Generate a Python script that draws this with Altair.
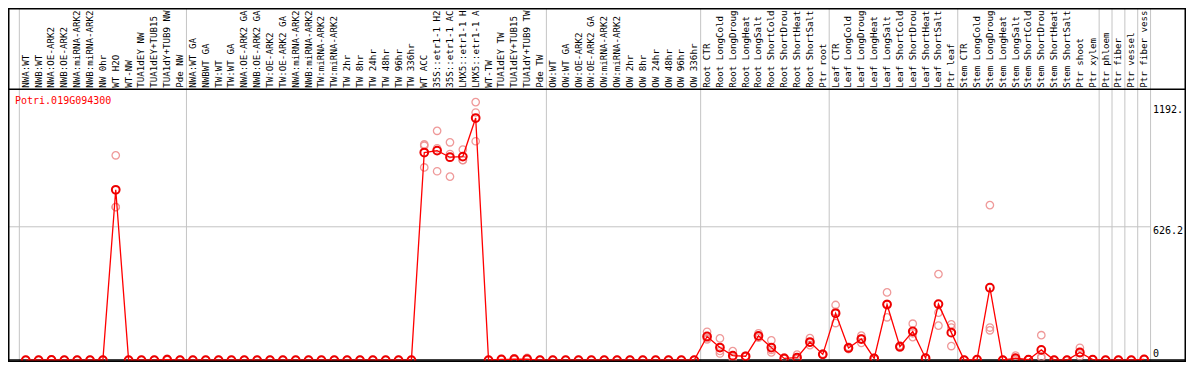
import altair as alt
import pandas as pd

labels = [
    "NWA:WT", "NWB:WT", "NWA:OE-ARK2", "NWB:OE-ARK2", "NWA:miRNA-ARK2", "NWB:miRNA-ARK2",
    "NW 0hr", "WT H2O", "WT-NW", "TUA1dEY NW", "TUA1dEY+TUB15", "TUA1dY+TUB9 NW", "Pde NW",
    "NWA:WT GA", "NWBWT GA", "TW:WT", "TW:WT GA", "NWA:OE-ARK2 GA", "NWB:OE-ARK2 GA",
    "TW:OE-ARK2", "TW:OE-ARK2 GA", "NWA:miRNA-ARK2", "NWB:miRNA-ARK2", "TW:miRNA-ARK2",
    "TW:miRNA-ARK2", "TW 2hr", "TW 8hr", "TW 24hr", "TW 48hr", "TW 96hr", "TW 336hr",
    "WT ACC", "35S::etr1-1 H2", "35S::etr1-1 AC", "LMX5::etr1-1 H", "LMX5::etr1-1 A",
    "WT-TW", "TUA1dEY TW", "TUA1dEY+TUB15", "TUA1dY+TUB9 TW", "Pde TW",
    "OW:WT", "OW:WT GA", "OW:OE-ARK2", "OW:OE-ARK2 GA", "OW:miRNA-ARK2", "OW:miRNA-ARK2",
    "OW 2hr", "OW 8hr", "OW 24hr", "OW 48hr", "OW 96hr", "OW 336hr",
    "Root CTR", "Root LongCold", "Root LongDroug", "Root LongHeat", "Root LongSalt",
    "Root ShortCold", "Root ShortDrou", "Root ShortHeat", "Root ShortSalt", "Ptr root",
    "Leaf CTR", "Leaf LongCold", "Leaf LongDroug", "Leaf LongHeat", "Leaf LongSalt",
    "Leaf ShortCold", "Leaf ShortDrou", "Leaf ShortHeat", "Leaf ShortSalt", "Ptr leaf",
    "Stem CTR", "Stem LongCold", "Stem LongDroug", "Stem LongHeat", "Stem LongSalt",
    "Stem ShortCold", "Stem ShortDrou", "Stem ShortHeat", "Stem ShortSalt", "Ptr shoot",
    "Ptr xylem", "Ptr phloem", "Ptr fiber", "Ptr vessel", "Ptr fiber vess",
]

# number of samples in each group (separated by vertical grid lines)
group_sizes = [13, 28, 12, 10, 10, 11, 1, 1, 1, 1]

means = [
    0, 0, 1, 0, 0, 0, 0, 800, 0, 0, 0, 2, 0,
    0, 0, 0, 0, 0, 0, 0, 0, 0, 0, 0, 0, 0, 0, 0, 0, 0, 0,
    975, 984, 953, 956, 1137, 0, 3, 4, 5, 0,
    0, 0, 0, 0, 0, 0, 0, 0, 0, 0, 0, 0,
    111, 59, 21, 18, 114, 59, 8, 12, 85, 27,
    220, 57, 99, 8, 261, 63, 135, 9, 263, 129,
    0, 2, 340, 0, 9, 2, 48, 0, 0, 36,
    2, 0, 0, 0, 3,
]

rep1 = [
    0, 0, 2, 0, 0, 0, 0, 962, 0, 0, 0, 6, 0,
    0, 0, 0, 0, 0, 0, 0, 0, 0, 0, 0, 0, 0, 0, 0, 0, 0, 0,
    1013, 1077, 1023, 989, 1212, 0, 5, 8, 10, 0,
    0, 0, 0, 0, 0, 0, 0, 0, 0, 0, 0, 0,
    133, 102, 42, 20, 126, 93, 12, 26, 103, 30,
    259, 62, 115, 10, 318, 68, 171, 9, 404, 168,
    0, 3, 728, 0, 21, 3, 117, 0, 0, 58,
    3, 0, 0, 0, 5,
]
rep2 = [
    0, 0, 0, 0, 0, 0, 0, 719, 0, 0, 0, 0, 0,
    0, 0, 0, 0, 0, 0, 0, 0, 0, 0, 0, 0, 0, 0, 0, 0, 0, 0,
    1007, 995, 968, 939, 1163, 0, 2, 3, 3, 0,
    0, 0, 0, 0, 0, 0, 0, 0, 0, 0, 0, 0,
    103, 43, 6, 15, 111, 48, 6, 5, 70, 25,
    174, 52, 81, 6, 201, 58, 108, 9, 223, 153,
    0, 1, 153, 0, 3, 1, 16, 0, 0, 18,
    1, 0, 0, 0, 2,
]
rep3 = [
    0, 0, 1, 0, 0, 0, 0, 719, 0, 0, 0, 0, 0,
    0, 0, 0, 0, 0, 0, 0, 0, 0, 0, 0, 0, 0, 0, 0, 0, 0, 0,
    905, 887, 862, 940, 1028, 0, 1, 1, 2, 0,
    0, 0, 0, 0, 0, 0, 0, 0, 0, 0, 0, 0,
    97, 31, 16, 19, 105, 36, 6, 5, 82, 26,
    227, 57, 101, 8, 264, 63, 126, 9, 162, 66,
    0, 2, 140, 0, 3, 2, 11, 0, 0, 32,
    2, 0, 0, 0, 2,
]

tick_values = [626.2, 1192]
tick_labels = ["626.2", "1192."]
zero_label = "0"
gene = "Potri.019G094300"

W, H = 1178, 354
FONT = "DejaVu Sans Mono"

idx = list(range(len(labels)))
mean_df = pd.DataFrame({"i": idx, "label": labels, "v": means})
rep_df = pd.DataFrame({
    "i": idx * 3,
    "v": rep1 + rep2 + rep3,
})

bounds = [-0.5]
acc = 0
for g in group_sizes:
    acc += g
    bounds.append(acc - 0.5)
bound_df = pd.DataFrame({"b": bounds})

xs = alt.Scale(domain=[-1.3816, 90.256], nice=False, zero=False)
ys = alt.Scale(domain=[-8.93, 1653.9], nice=False, zero=False)

base_x = alt.X("i:Q", scale=xs, axis=None)

vgrid = alt.Chart(bound_df).mark_rule(color="#c4c4c4", strokeWidth=1).encode(
    x=alt.X("b:Q", scale=xs, axis=None),
    y=alt.value(0), y2=alt.value(H),
)

tick_df = pd.DataFrame({"v": tick_values, "t": tick_labels})
hgrid = alt.Chart(pd.DataFrame({"v": [tick_values[0]]})).mark_rule(
    color="#c4c4c4", strokeWidth=1
).encode(
    y=alt.Y("v:Q", scale=ys, axis=None),
    x=alt.value(0), x2=alt.value(1142),
)

zero_line = alt.Chart(pd.DataFrame({"v": [0]})).mark_rule(color="black", strokeWidth=1.5).encode(
    y=alt.Y("v:Q", scale=ys, axis=None),
    x=alt.value(0), x2=alt.value(W),
)

top_line = alt.Chart(pd.DataFrame({"v": [0]})).mark_rule(color="black", strokeWidth=1.5).encode(
    y=alt.value(81.3), x=alt.value(0), x2=alt.value(W),
)

border = alt.Chart(pd.DataFrame({"v": [0]})).mark_rect(
    fill=None, stroke="black", strokeWidth=1.5
).encode(
    x=alt.value(0.75), x2=alt.value(W - 0.75), y=alt.value(0.75), y2=alt.value(H - 0.75),
)

reps = alt.Chart(rep_df).mark_point(
    shape="circle", filled=False, color="#ee8f8f", size=55, strokeWidth=1.3, opacity=0.9
).encode(
    x=base_x,
    y=alt.Y("v:Q", scale=ys, axis=None),
)

line = alt.Chart(mean_df).mark_line(color="#ff0000", strokeWidth=1.3).encode(
    x=base_x,
    y=alt.Y("v:Q", scale=ys, axis=None),
)

mean_pts = alt.Chart(mean_df).mark_point(
    shape="circle", filled=False, color="#ee0000", size=60, strokeWidth=2, opacity=1
).encode(
    x=base_x,
    y=alt.Y("v:Q", scale=ys, axis=None),
)

top_labels = alt.Chart(mean_df).mark_text(
    angle=270, align="left", baseline="middle", font=FONT, fontSize=9.2, color="black"
).encode(
    x=base_x,
    y=alt.value(79.8),
    text="label:N",
)

title = alt.Chart(pd.DataFrame({"t": [gene]})).mark_text(
    align="left", baseline="middle", font=FONT, fontSize=10, color="#ff0000"
).encode(
    x=alt.value(7), y=alt.value(92.5), text="t:N",
)

right_labels = alt.Chart(tick_df).mark_text(
    align="left", baseline="middle", font=FONT, fontSize=10, color="black", dy=4
).encode(
    x=alt.value(1145),
    y=alt.Y("v:Q", scale=ys, axis=None),
    text="t:N",
)

zero_text = alt.Chart(pd.DataFrame({"v": [0], "t": [zero_label]})).mark_text(
    align="left", baseline="middle", font=FONT, fontSize=10, color="black", dy=-6
).encode(
    x=alt.value(1145),
    y=alt.Y("v:Q", scale=ys, axis=None),
    text="t:N",
)

chart = alt.layer(
    vgrid, hgrid, zero_line, top_line, reps, line, mean_pts,
    top_labels, title, right_labels, zero_text, border,
).properties(
    width=W, height=H,
    autosize=alt.AutoSizeParams(type="none"),
    padding=0,
    background="white",
).configure_view(stroke=None)

chart.save("out.html", embed_options={"renderer": "svg", "actions": False})
